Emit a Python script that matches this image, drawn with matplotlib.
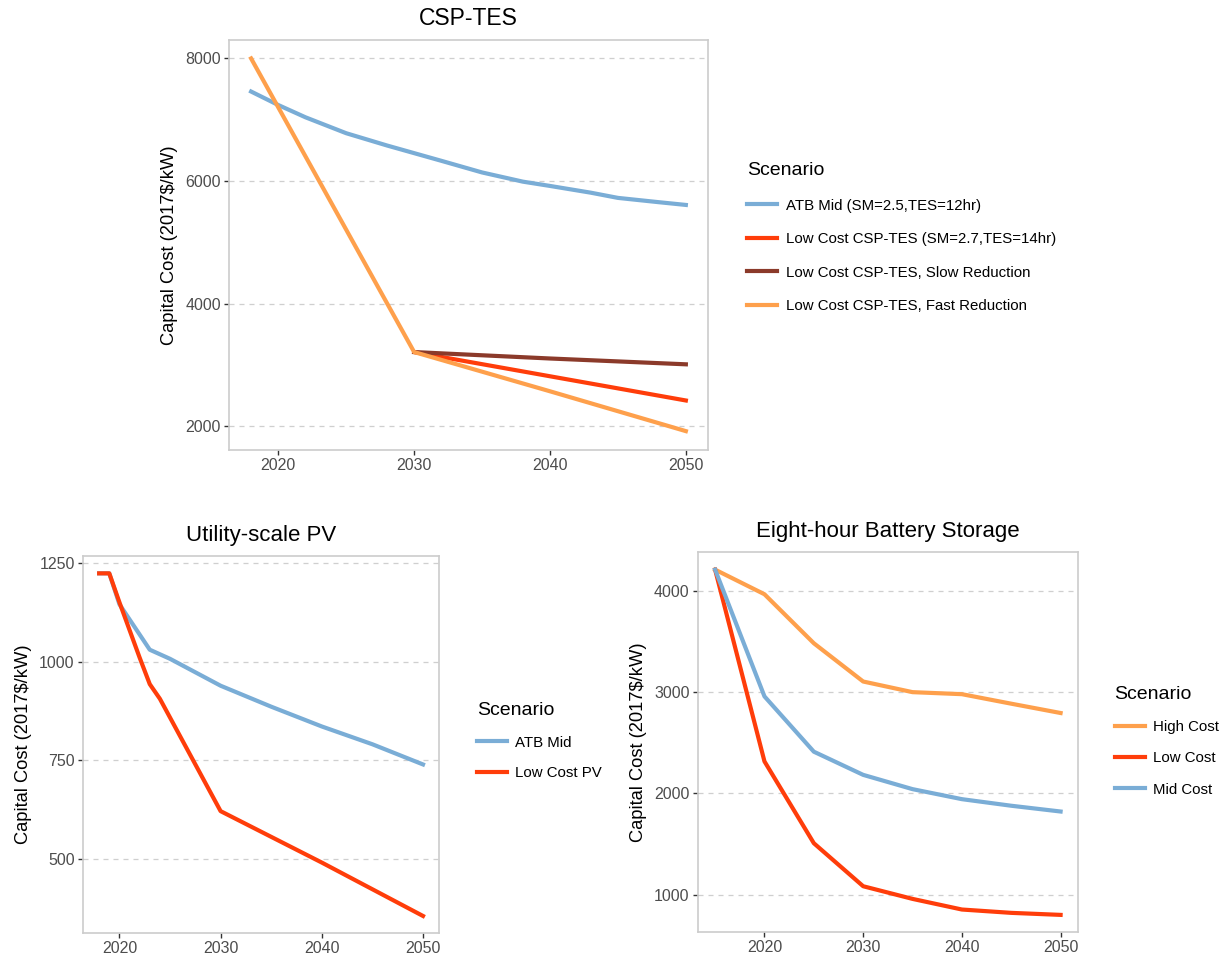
import numpy as np
import matplotlib.pyplot as plt

plt.rcParams['font.family'] = ['Liberation Sans', 'DejaVu Sans']

# CSP-TES capital cost (2017$/kW)
csp_years_mid = [2018, 2020, 2022, 2025, 2028, 2030, 2032, 2035, 2038, 2040, 2043, 2045, 2048, 2050]
csp_mid = [7460, 7240, 7040, 6780, 6580, 6455, 6330, 6140, 5990, 5920, 5810, 5725, 5655, 5610]
csp_years_fast = [2018, 2030, 2040, 2050]
csp_fast = [8000, 3210, 2570, 1920]
csp_years_low = [2030, 2040, 2050]
csp_low = [3210, 2815, 2420]
csp_slow = [3210, 3105, 3010]
csp_labels = ['ATB Mid (SM=2.5,TES=12hr)', 'Low Cost CSP-TES (SM=2.7,TES=14hr)',
              'Low Cost CSP-TES, Slow Reduction', 'Low Cost CSP-TES, Fast Reduction']

# Utility-scale PV
pv_years_mid = [2018, 2019, 2020, 2023, 2025, 2030, 2035, 2040, 2045, 2050]
pv_mid = [1223, 1223, 1145, 1030, 1007, 939, 886, 836, 791, 740]
pv_years_low = [2018, 2019, 2020, 2021, 2022, 2023, 2024, 2030, 2040, 2050]
pv_low = [1223, 1223, 1150, 1080, 1010, 943, 906, 622, 492, 357]
pv_labels = ['ATB Mid', 'Low Cost PV']

# Eight-hour battery storage
bat_years = [2015, 2020, 2025, 2030, 2035, 2040, 2045, 2050]
bat_high = [4210, 3967, 3483, 3105, 3000, 2980, 2886, 2794]
bat_low = [4210, 2316, 1508, 1083, 958, 853, 820, 800]
bat_mid = [4210, 2958, 2412, 2183, 2042, 1943, 1878, 1821]
bat_labels = ['High Cost', 'Low Cost', 'Mid Cost']

BLUE = '#7aadd6'
RED = '#ff3d0a'
BROWN = '#8b3a2a'
ORANGE = '#fea04c'


def style_axes(ax, title, yticks, title_size=16):
    ax.set_title(title, fontsize=title_size, pad=11)
    ax.set_ylabel('Capital Cost (2017\\$/kW)', fontsize=13.2, labelpad=5)
    ax.set_xticks([2020, 2030, 2040, 2050])
    ax.set_yticks(yticks)
    ax.grid(axis='y', color='#cfcfcf', linestyle=(0, (4, 4)), linewidth=0.9)
    ax.set_axisbelow(True)
    for s in ax.spines.values():
        s.set_color('#cccccc')
        s.set_linewidth(1.2)
    ax.tick_params(colors='#333333', labelcolor='#4d4d4d', labelsize=11.5,
                   length=3.5, width=1, pad=2.5)
    ax.margins(x=0.05, y=0.05)


def add_legend(ax, x, y, spacing):
    ax.legend(title='Scenario', loc='upper left', bbox_to_anchor=(x, y),
              bbox_transform=ax.figure.transFigure, frameon=False,
              alignment='left', fontsize=10.8, title_fontsize=14,
              handlelength=2.0, handletextpad=0.55, labelspacing=spacing)


fig = plt.figure(figsize=(12.2, 9.59), dpi=100)

# top panel
ax1 = fig.add_axes([0.188, 0.531, 0.392, 0.4275])
ax1.plot(csp_years_mid, csp_mid, color=BLUE, lw=3, label=csp_labels[0])
ax1.plot(csp_years_low, csp_low, color=RED, lw=3, label=csp_labels[1])
ax1.plot(csp_years_low, csp_slow, color=BROWN, lw=3, label=csp_labels[2])
ax1.plot(csp_years_fast, csp_fast, color=ORANGE, lw=3, label=csp_labels[3])
style_axes(ax1, 'CSP-TES', [2000, 4000, 6000, 8000], title_size=16.5)
add_legend(ax1, 0.6016, 0.845, 1.3)

# bottom left
ax2 = fig.add_axes([0.068, 0.027, 0.292, 0.393])
ax2.plot(pv_years_mid, pv_mid, color=BLUE, lw=3, label=pv_labels[0])
ax2.plot(pv_years_low, pv_low, color=RED, lw=3, label=pv_labels[1])
style_axes(ax2, 'Utility-scale PV', [500, 750, 1000, 1250])
add_legend(ax2, 0.380, 0.282, 1.1)

# bottom right
ax3 = fig.add_axes([0.572, 0.028, 0.3115, 0.396])
ax3.plot(bat_years, bat_high, color=ORANGE, lw=3, label=bat_labels[0])
ax3.plot(bat_years, bat_low, color=RED, lw=3, label=bat_labels[1])
ax3.plot(bat_years, bat_mid, color=BLUE, lw=3, label=bat_labels[2])
style_axes(ax3, 'Eight-hour Battery Storage', [1000, 2000, 3000, 4000])
add_legend(ax3, 0.9025, 0.299, 1.15)

fig.savefig('out.png', dpi=100)
